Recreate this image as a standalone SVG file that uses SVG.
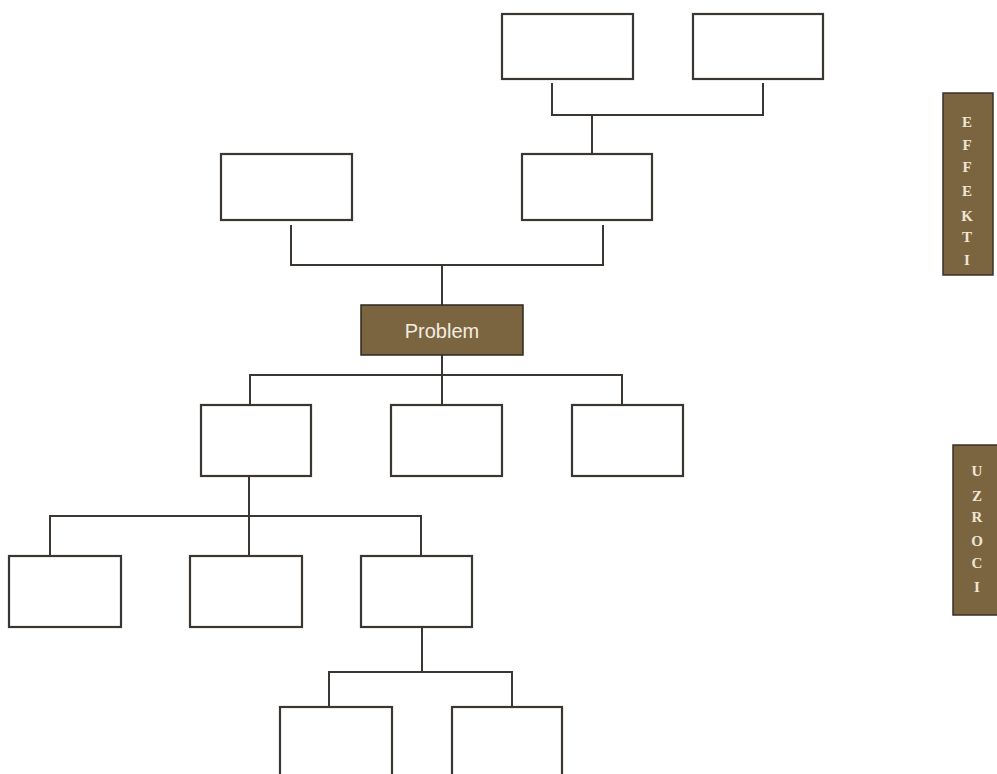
<svg xmlns="http://www.w3.org/2000/svg" width="997" height="774" viewBox="0 0 997 774">
<style>
.box{fill:#ffffff;stroke:#3b3631;stroke-width:2.2}
.prob{fill:#7b6540;stroke:#2e2820;stroke-width:1.5}
.side{fill:#7b6540;stroke:#3a3024;stroke-width:1.5}
.ln{fill:none;stroke:#3b3631;stroke-width:2}
.pt{font-family:"Liberation Sans",Arial,sans-serif;font-size:20px;fill:#f3ece0;text-anchor:middle}
.st{font-family:"Liberation Serif","Times New Roman",serif;font-weight:bold;font-size:15px;fill:#efe6d4;text-anchor:middle}
</style>
<rect width="997" height="774" fill="#ffffff"/>
<g id="connectors">
<path class="ln" d="M552 83V115H763V83M592 115V154"/>
<path class="ln" d="M291 225V265H603V225M442 265V305"/>
<path class="ln" d="M442 355V375M250 405V375H622V405M442 375V405"/>
<path class="ln" d="M249 476V516M50 556V516H421V556M249 516V556"/>
<path class="ln" d="M422 627V672M329 707V672H512V707"/>
</g>
<g id="n-top1"><rect class="box" x="502" y="14" width="131" height="65"/></g>
<g id="n-top2"><rect class="box" x="693" y="14" width="130" height="65"/></g>
<g id="n-eff1"><rect class="box" x="221" y="154" width="131" height="66"/></g>
<g id="n-eff2"><rect class="box" x="522" y="154" width="130" height="66"/></g>
<g id="n-problem"><rect class="prob" x="361" y="305" width="162" height="50"/><text class="pt" x="442" y="338">Problem</text></g>
<g id="n-c1"><rect class="box" x="201" y="405" width="110" height="71"/></g>
<g id="n-c2"><rect class="box" x="391" y="405" width="111" height="71"/></g>
<g id="n-c3"><rect class="box" x="572" y="405" width="111" height="71"/></g>
<g id="n-c11"><rect class="box" x="9" y="556" width="112" height="71"/></g>
<g id="n-c12"><rect class="box" x="190" y="556" width="112" height="71"/></g>
<g id="n-c13"><rect class="box" x="361" y="556" width="111" height="71"/></g>
<g id="n-c131"><rect class="box" x="280" y="707" width="112" height="80"/></g>
<g id="n-c132"><rect class="box" x="452" y="707" width="110" height="80"/></g>
<g id="n-efekti">
<rect class="side" x="943" y="93" width="50" height="182"/>
<text class="st" x="967" y="127">E</text>
<text class="st" x="967" y="150">F</text>
<text class="st" x="967" y="172">F</text>
<text class="st" x="967" y="196">E</text>
<text class="st" x="967" y="221">K</text>
<text class="st" x="967" y="242">T</text>
<text class="st" x="967" y="265">I</text>
</g>
<g id="n-uzroci">
<rect class="side" x="953" y="445" width="46" height="170"/>
<text class="st" x="977" y="476">U</text>
<text class="st" x="977" y="501">Z</text>
<text class="st" x="977" y="522">R</text>
<text class="st" x="977" y="546">O</text>
<text class="st" x="977" y="568">C</text>
<text class="st" x="977" y="592">I</text>
</g>
</svg>
